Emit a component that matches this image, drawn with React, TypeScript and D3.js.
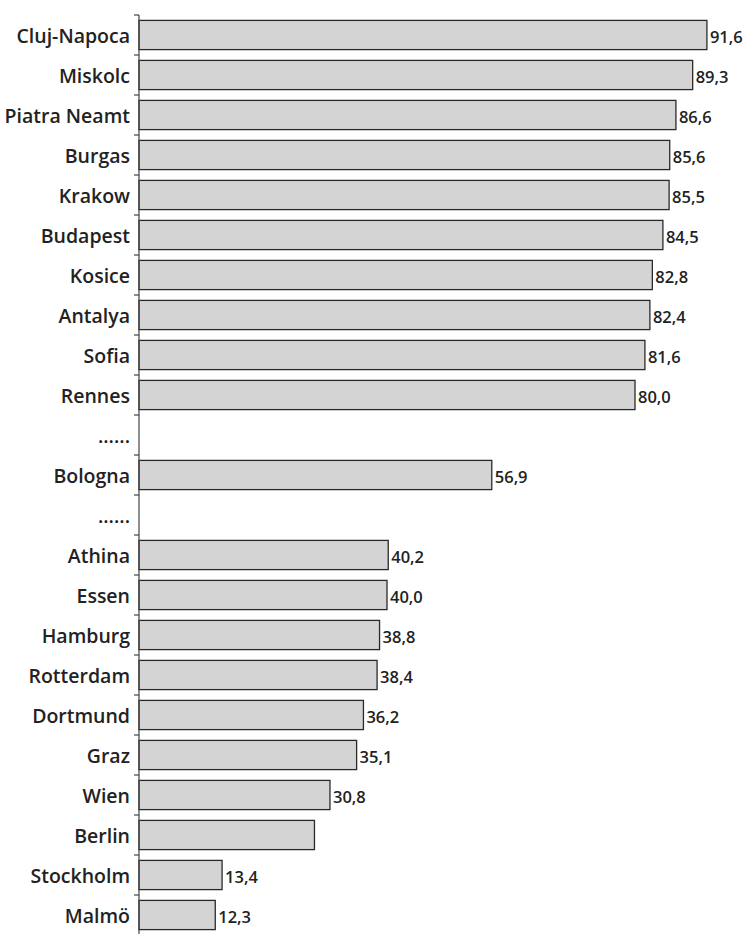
import * as d3 from "d3";

// rows top to bottom; "......" rows are gaps without a bar
const cities = [
  "Cluj-Napoca", "Miskolc", "Piatra Neamt", "Burgas", "Krakow", "Budapest",
  "Kosice", "Antalya", "Sofia", "Rennes", "......", "Bologna", "......",
  "Athina", "Essen", "Hamburg", "Rotterdam", "Dortmund", "Graz", "Wien",
  "Berlin", "Stockholm", "Malmö",
];
const values: (number | null)[] = [
  91.6, 89.3, 86.6, 85.6, 85.5, 84.5, 82.8, 82.4, 81.6, 80.0, null, 56.9, null,
  40.2, 40.0, 38.8, 38.4, 36.2, 35.1, 30.8, 28.3, 13.4, 12.3,
];
// Berlin has no value printed in the source
const hiddenLabels = ["Berlin"];

const width = 748;
const height = 934;
const axisX = 139;
const top = 15;
const step = 40;

const fmt = (v: number) => v.toFixed(1).replace(".", ",");

export default function App() {
  const y = d3
    .scaleBand<string>()
    .domain(cities.map((c, i) => `${i}`))
    .range([top, top + step * cities.length])
    .paddingInner(0.27)
    .paddingOuter(0.135);

  const x = d3.scaleLinear().domain([0, 100]).range([axisX, axisX + 620]);

  const font = "'Open Sans', 'Noto Sans', sans-serif";
  const tickYs = d3.range(cities.length + 1).map((i) => top + i * step);

  return (
    <svg
      width={width}
      height={height}
      style={{ position: "absolute", left: 0, top: 0, background: "#fff" }}
    >
      {cities.map((c, i) => {
        const v = values[i];
        const yy = y(`${i}`)!;
        const cy = top + i * step + step / 2;
        return (
          <g key={i}>
            <text
              x={130}
              y={cy}
              textAnchor="end"
              dominantBaseline="central"
              fontFamily={font}
              fontWeight={600}
              fontSize={19.5}
              fill="#222"
            >
              {c}
            </text>
            {v != null && (
              <>
                <rect
                  x={x(0)}
                  y={yy}
                  width={x(v) - x(0)}
                  height={y.bandwidth()}
                  fill="#d4d4d4"
                  stroke="#2a2a2a"
                  strokeWidth={1.3}
                />
                {!hiddenLabels.includes(c) && (
                  <text
                    x={x(v) + 3}
                    y={cy + 1}
                    dominantBaseline="central"
                    fontFamily={font}
                    fontWeight={600}
                    fontSize={16.5}
                    fill="#222"
                  >
                    {fmt(v)}
                  </text>
                )}
              </>
            )}
          </g>
        );
      })}
      <line x1={axisX} x2={axisX} y1={top} y2={height} stroke="#444" strokeWidth={1.2} />
      {tickYs.map((t) => (
        <line key={t} x1={axisX - 5} x2={axisX} y1={t} y2={t} stroke="#444" strokeWidth={1.2} />
      ))}
    </svg>
  );
}
